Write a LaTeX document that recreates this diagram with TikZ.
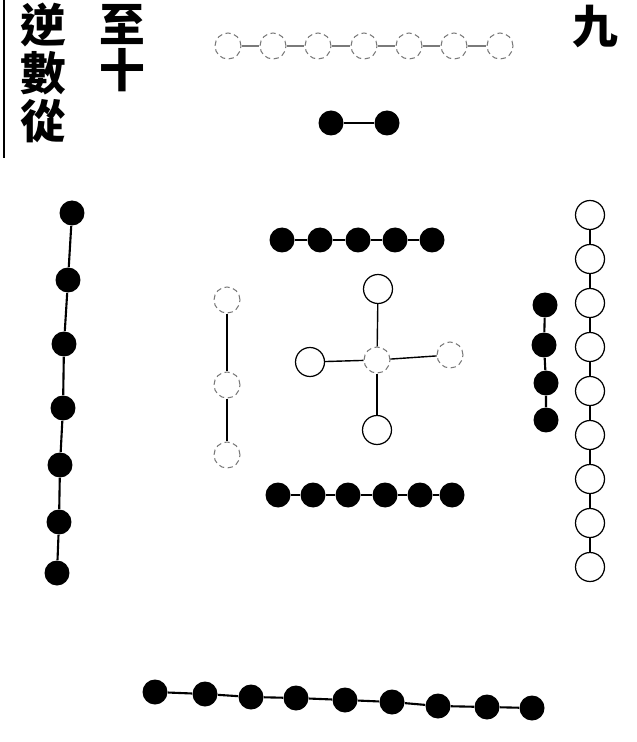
\documentclass[tikz,border=0pt]{standalone}
\usepackage{fontspec}
\usepackage{xcolor}
\usepackage{tikz}
\usetikzlibrary{positioning}
\newfontfamily\cjkfont{Noto Sans CJK TC}
\definecolor{ink}{HTML}{000000}
\definecolor{faded}{HTML}{7A7A7A}

\begin{document}
\begin{tikzpicture}[
    x=0.02cm, y=-0.02cm,
    yin/.style={circle, fill=ink, inner sep=0pt, minimum size=0.5cm},
    yang/.style={circle, draw=ink, line width=0.7pt, fill=white, inner sep=0pt, minimum size=0.58cm},
    faint/.style={circle, draw=faded, densely dashed, line width=0.6pt, fill=white, inner sep=0pt, minimum size=0.52cm},
    glyph/.style={font=\cjkfont\bfseries\fontsize{26}{26}\selectfont, inner sep=0pt},
    line/.style={draw, line width=1.2pt, color=ink},
    thinline/.style={draw, line width=0.8pt, color=ink},
    fadeline/.style={draw, line width=0.8pt, color=faded}
]
\clip (0,0) rectangle (636,742);

% Text
\coordinate (edgetop) at (4,0);
\coordinate (edgebot) at (4,158);
\node [glyph] (ni) at (43,25) {逆};
\node [glyph] (shu) at (43,73) {數};
\node [glyph] (cong) at (43,121) {從};
\node [glyph] (zhi) at (122,25) {至};
\node [glyph] (shi) at (122,70) {十};
\node [glyph] (jiu) at (595,27) {九};

% Top: two and seven
\node [faint] (s1) at (228,46) {};
\node [faint] (s2) at (273,46) {};
\node [faint] (s3) at (318,46) {};
\node [faint] (s4) at (364,46) {};
\node [faint] (s5) at (409,46) {};
\node [faint] (s6) at (454,46) {};
\node [faint] (s7) at (500,46) {};
\node [yin] (two1) at (331,123) {};
\node [yin] (two2) at (387,123) {};

% Center: five and ten
\node [yin] (up1) at (282,240) {};
\node [yin] (up2) at (320,240) {};
\node [yin] (up3) at (358,240) {};
\node [yin] (up4) at (395,240) {};
\node [yin] (up5) at (432,240) {};
\node [faint] (mid) at (377,360) {};
\node [yang] (midtop) at (378,289) {};
\node [yang] (midleft) at (310,362) {};
\node [faint] (midright) at (450,355) {};
\node [yang] (midbot) at (377,430) {};
\node [yin] (lo1) at (278,495) {};
\node [yin] (lo2) at (313,495) {};
\node [yin] (lo3) at (348,495) {};
\node [yin] (lo4) at (385,495) {};
\node [yin] (lo5) at (420,495) {};
\node [yin] (lo6) at (452,495) {};

% Left: three and eight
\node [faint] (e1) at (227,300) {};
\node [faint] (e2) at (227,385) {};
\node [faint] (e3) at (227,455) {};
\node [yin] (w1) at (72,213) {};
\node [yin] (w2) at (68,280) {};
\node [yin] (w3) at (64,344) {};
\node [yin] (w4) at (63,408) {};
\node [yin] (w5) at (60,465) {};
\node [yin] (w6) at (59,522) {};
\node [yin] (w7) at (57,573) {};

% Right: four and nine
\node [yin] (f1) at (545,305) {};
\node [yin] (f2) at (544,345) {};
\node [yin] (f3) at (546,383) {};
\node [yin] (f4) at (546,420) {};
\node [yang] (r1) at (590,215) {};
\node [yang] (r2) at (590,259) {};
\node [yang] (r3) at (590,303) {};
\node [yang] (r4) at (590,347) {};
\node [yang] (r5) at (590,391) {};
\node [yang] (r6) at (590,435) {};
\node [yang] (r7) at (590,479) {};
\node [yang] (r8) at (590,523) {};
\node [yang] (r9) at (590,567) {};

% Bottom
\node [yin] (b1) at (155,692) {};
\node [yin] (b2) at (205,694) {};
\node [yin] (b3) at (251,697) {};
\node [yin] (b4) at (296,698) {};
\node [yin] (b5) at (345,700) {};
\node [yin] (b6) at (392,702) {};
\node [yin] (b7) at (438,706) {};
\node [yin] (b8) at (487,707) {};
\node [yin] (b9) at (532,708) {};

% Connectors
\path [line] (edgetop) -- (edgebot);
\path [fadeline] (s1) -- (s2) -- (s3) -- (s4) -- (s5) -- (s6) -- (s7);
\path [line] (two1) -- (two2);
\path [line] (up1) -- (up2) -- (up3) -- (up4) -- (up5);
\path [thinline] (mid) -- (midtop);
\path [thinline] (mid) -- (midleft);
\path [thinline] (mid) -- (midright);
\path [thinline] (mid) -- (midbot);
\path [line] (lo1) -- (lo2) -- (lo3) -- (lo4) -- (lo5) -- (lo6);
\path [thinline] (e1) -- (e2) -- (e3);
\path [line] (w1) -- (w2) -- (w3) -- (w4) -- (w5) -- (w6) -- (w7);
\path [line] (f1) -- (f2) -- (f3) -- (f4);
\path [thinline] (r1) -- (r2) -- (r3) -- (r4) -- (r5) -- (r6) -- (r7) -- (r8) -- (r9);
\path [line] (b1) -- (b2) -- (b3) -- (b4) -- (b5) -- (b6) -- (b7) -- (b8) -- (b9);

\end{tikzpicture}
\end{document}
